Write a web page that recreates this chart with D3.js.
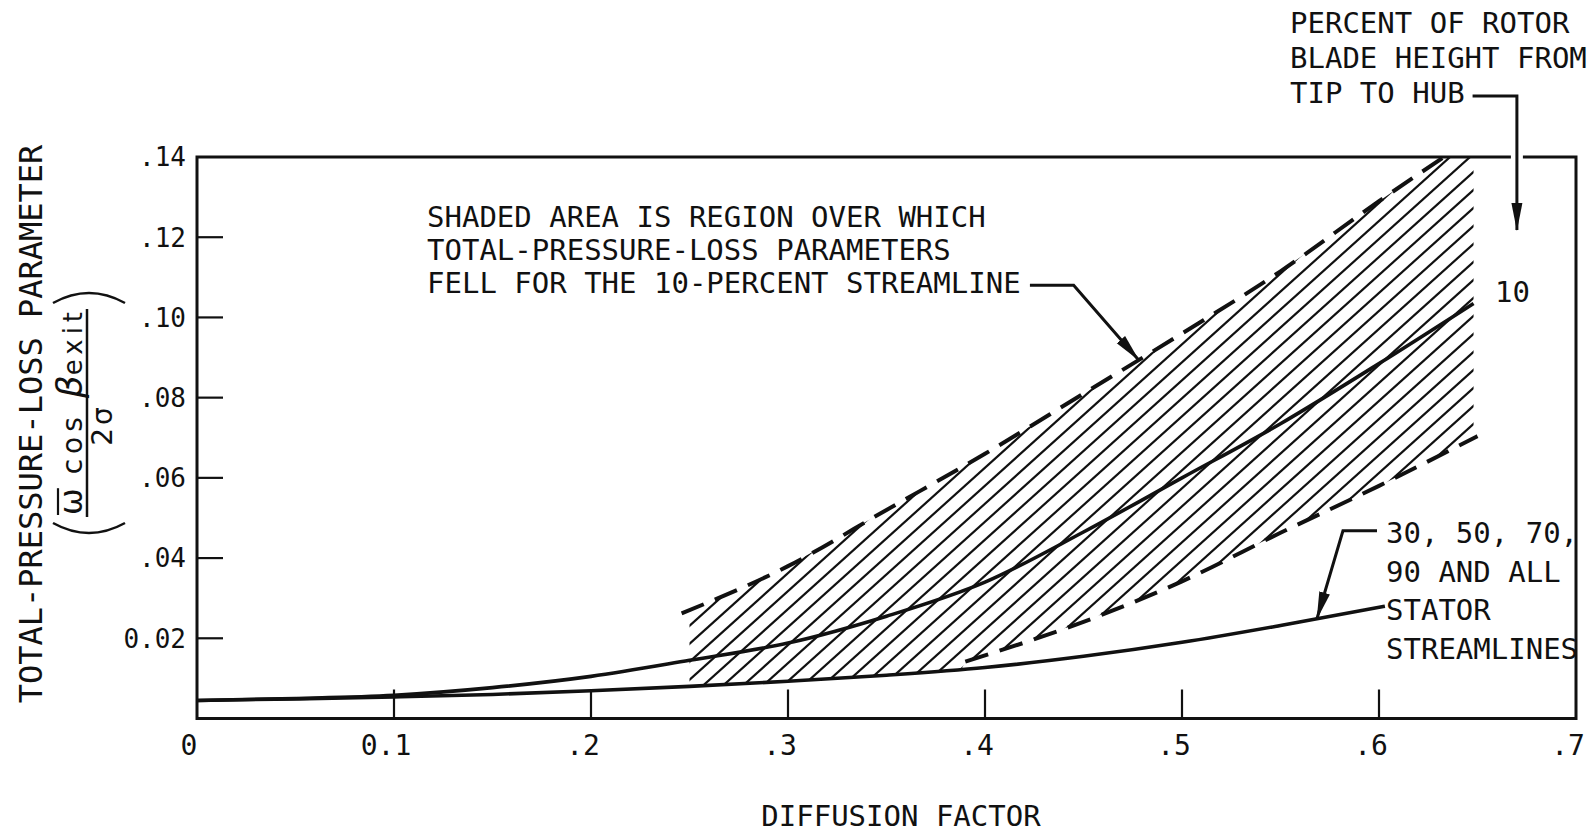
<!DOCTYPE html>
<html>
<head>
<meta charset="utf-8">
<script src="https://cdn.jsdelivr.net/npm/d3@7"></script>
<style>
  body { margin: 0; background: #fff; }
  text { font-family: "DejaVu Sans Mono", monospace; fill: #111; }
</style>
</head>
<body>
<svg id="chart"></svg>
<script>
// Total-pressure-loss parameter against diffusion factor

const xTicks = [0, 0.1, 0.2, 0.3, 0.4, 0.5, 0.6, 0.7];
const xTickLabels = ["0", "0.1", ".2", ".3", ".4", ".5", ".6", ".7"];
const yTicks = [0.02, 0.04, 0.06, 0.08, 0.10, 0.12, 0.14];
const yTickLabels = ["0.02", ".04", ".06", ".08", ".10", ".12", ".14"];

// 30, 50, 70, 90 percent and all stator streamlines
const statorD = [0, 0.05, 0.1, 0.15, 0.2, 0.25, 0.3, 0.35, 0.4, 0.45, 0.5, 0.55, 0.603];
const statorLoss = [0.0045, 0.0049, 0.0054, 0.006, 0.0069, 0.008, 0.0093, 0.0108, 0.0127, 0.0155, 0.019, 0.0232, 0.028];

// 10 percent streamline (rotor, tip region)
const tip10D = [0, 0.05, 0.1, 0.15, 0.2, 0.25, 0.3, 0.35, 0.4, 0.45, 0.5, 0.55, 0.6, 0.648];
const tip10Loss = [0.0045, 0.005, 0.0058, 0.0077, 0.0105, 0.0145, 0.0188, 0.0255, 0.034, 0.0465, 0.06, 0.0735, 0.0885, 0.1035];

// dashed limits of the shaded band
const upperD = [0.246, 0.3, 0.35, 0.4, 0.45, 0.5, 0.55, 0.6, 0.633];
const upperLoss = [0.0262, 0.038, 0.052, 0.066, 0.081, 0.096, 0.1115, 0.129, 0.14];
const lowerD = [0.39, 0.45, 0.5, 0.55, 0.6, 0.65];
const lowerLoss = [0.0142, 0.0241, 0.0342, 0.0463, 0.058, 0.0704];

const WIDTH = 1593;
const HEIGHT = 832;

const svg = d3.select("#chart").attr("width", WIDTH).attr("height", HEIGHT);

const x = d3.scaleLinear().domain([0, 0.7]).range([197, 1576]);
const y = d3.scaleLinear().domain([0, 0.14]).range([718.5, 157]);

// linear lookup along a read-off series
function lookup(ds, vs, d) {
  if (d <= ds[0]) return vs[0];
  for (let i = 1; i < ds.length; i++) {
    if (d <= ds[i]) {
      const t = (d - ds[i - 1]) / (ds[i] - ds[i - 1]);
      return vs[i - 1] + t * (vs[i] - vs[i - 1]);
    }
  }
  return vs[vs.length - 1];
}

const defs = svg.append("defs");
defs.append("marker")
  .attr("id", "arrow")
  .attr("markerUnits", "userSpaceOnUse")
  .attr("viewBox", "0 -6 28 12")
  .attr("markerWidth", 28)
  .attr("markerHeight", 12)
  .attr("refX", 27)
  .attr("refY", 0)
  .attr("orient", "auto")
  .append("path")
  .attr("d", "M0,-5.5L28,0L0,5.5Z")
  .attr("fill", "#111");

// shaded region: between upper dashed limit and the lower limit (stator curve, then lower dashed)
const bandStart = 0.25, bandEnd = 0.648;
const bandDs = d3.range(bandStart, bandEnd, 0.002).concat([bandEnd]);
const topEdge = bandDs.map(d => [d, Math.min(lookup(upperD, upperLoss, d), 0.14)]);
const bottomEdge = bandDs.map(d => {
  const s = lookup(statorD, statorLoss, d);
  return [d, d >= lowerD[0] ? Math.max(s, lookup(lowerD, lowerLoss, d)) : s];
}).reverse();

const pxLine = d3.line().x(d => x(d[0])).y(d => y(d[1]));
defs.append("clipPath").attr("id", "bandClip")
  .append("path")
  .attr("d", pxLine(topEdge.concat(bottomEdge)) + "Z");

const slope = Math.tan(42 * Math.PI / 180);
const hx0 = x(0.22), hx1 = x(0.68);
const hatch = svg.append("g").attr("clip-path", "url(#bandClip)");
hatch.selectAll("line")
  .data(d3.range(y(0.14), y(0) + (hx1 - hx0) * slope, 18))
  .enter()
  .append("line")
  .attr("x1", hx0).attr("y1", b => b)
  .attr("x2", hx1).attr("y2", b => b - (hx1 - hx0) * slope)
  .attr("stroke", "#111")
  .attr("stroke-width", 2.2);

// frame and ticks
svg.append("path")
  .attr("d", `M${x(0)},${y(0.14)}H${x(0.7)}V${y(0)}H${x(0)}Z`)
  .attr("fill", "none")
  .attr("stroke", "#111")
  .attr("stroke-width", 3);

svg.selectAll(".xtick")
  .data(xTicks.slice(1, -1))
  .enter()
  .append("line")
  .attr("class", "xtick")
  .attr("x1", d => x(d)).attr("x2", d => x(d))
  .attr("y1", y(0)).attr("y2", y(0) - 29)
  .attr("stroke", "#111")
  .attr("stroke-width", 2.2);

svg.selectAll(".ytick")
  .data(yTicks.slice(0, -1))
  .enter()
  .append("line")
  .attr("class", "ytick")
  .attr("x1", x(0)).attr("x2", x(0) + 26)
  .attr("y1", d => y(d)).attr("y2", d => y(d))
  .attr("stroke", "#111")
  .attr("stroke-width", 2.2);

svg.selectAll(".xlab")
  .data(xTicks)
  .enter()
  .append("text")
  .attr("class", "xlab")
  .attr("x", d => x(d) - 8)
  .attr("y", 755)
  .attr("text-anchor", "middle")
  .attr("font-size", 28)
  .text((d, i) => xTickLabels[i]);

svg.selectAll(".ylab")
  .data(yTicks)
  .enter()
  .append("text")
  .attr("class", "ylab")
  .attr("x", x(0) - 11)
  .attr("y", d => y(d))
  .attr("dy", "0.36em")
  .attr("text-anchor", "end")
  .attr("font-size", 26)
  .text((d, i) => yTickLabels[i]);

// curves
const curve = d3.line().x(d => x(d[0])).y(d => y(d[1])).curve(d3.curveMonotoneX);
const zip = (ds, vs) => ds.map((d, i) => [d, vs[i]]);

svg.append("path")
  .attr("d", curve(zip(statorD, statorLoss)))
  .attr("fill", "none").attr("stroke", "#111").attr("stroke-width", 3.6);

svg.append("path")
  .attr("d", curve(zip(tip10D, tip10Loss)))
  .attr("fill", "none").attr("stroke", "#111").attr("stroke-width", 3.6);

svg.append("path")
  .attr("d", curve(zip(upperD, upperLoss)))
  .attr("fill", "none").attr("stroke", "#111").attr("stroke-width", 4)
  .attr("stroke-dasharray", "24,12");

svg.append("path")
  .attr("d", curve(zip(lowerD, lowerLoss)))
  .attr("fill", "none").attr("stroke", "#111").attr("stroke-width", 4)
  .attr("stroke-dasharray", "24,12");

// annotations
function textBlock(lines, px, py, step) {
  const t = svg.append("text").attr("font-size", 29);
  lines.forEach((s, i) => {
    t.append("tspan").attr("x", px).attr("y", py + i * step).text(s);
  });
}

textBlock(["SHADED AREA IS REGION OVER WHICH",
           "TOTAL-PRESSURE-LOSS PARAMETERS",
           "FELL FOR THE 10-PERCENT STREAMLINE"], 427, 226.7, 33.3);
textBlock(["PERCENT OF ROTOR", "BLADE HEIGHT FROM", "TIP TO HUB"], 1290, 33.3, 35);
textBlock(["10"], 1495, 302, 0);
textBlock(["30, 50, 70,", "90 AND ALL", "STATOR", "STREAMLINES"], 1386, 543, 38.5);

const leader = d3.line().x(d => x(d[0])).y(d => y(d[1]));

// hub arrow crosses the frame with a small gap
const hubLeader = [[0.6475, 0.1552], [0.670, 0.1552], [0.670, 0.1218]];
svg.append("path")
  .attr("d", leader(hubLeader.slice(1)))
  .attr("fill", "none").attr("stroke", "#fff").attr("stroke-width", 12);
svg.append("path")
  .attr("d", leader(hubLeader))
  .attr("fill", "none").attr("stroke", "#111").attr("stroke-width", 3)
  .attr("marker-end", "url(#arrow)");

svg.append("path")
  .attr("d", leader([[0.4228, 0.108], [0.445, 0.108], [0.478, lookup(upperD, upperLoss, 0.478)]]))
  .attr("fill", "none").attr("stroke", "#111").attr("stroke-width", 3)
  .attr("marker-end", "url(#arrow)");

svg.append("path")
  .attr("d", leader([[0.599, 0.0468], [0.5817, 0.0468], [0.5685, lookup(statorD, statorLoss, 0.5685)]]))
  .attr("fill", "none").attr("stroke", "#111").attr("stroke-width", 3)
  .attr("marker-end", "url(#arrow)");

// axis titles
svg.append("text")
  .attr("x", 901).attr("y", 826)
  .attr("text-anchor", "middle")
  .attr("font-size", 29)
  .text("DIFFUSION FACTOR");

svg.append("text")
  .attr("transform", "translate(42,424) rotate(-90)")
  .attr("text-anchor", "middle")
  .attr("font-size", 32)
  .text("TOTAL-PRESSURE-LOSS PARAMETER");

// the fraction (ω̄ cos β_exit / 2σ) in parentheses
const frac = svg.append("g").attr("transform", "translate(87,413) rotate(-90)");
frac.append("line")
  .attr("x1", -104).attr("x2", 104).attr("y1", 0).attr("y2", 0)
  .attr("stroke", "#111").attr("stroke-width", 2.5);
frac.append("path")
  .attr("d", "M110,-34Q130,2 110,38")
  .attr("fill", "none").attr("stroke", "#111").attr("stroke-width", 2.5);
frac.append("path")
  .attr("d", "M-110,-34Q-130,2 -110,38")
  .attr("fill", "none").attr("stroke", "#111").attr("stroke-width", 2.5);

const num = frac.append("text")
  .attr("x", -102).attr("y", -5)
  .style("font-family", "'DejaVu Sans', sans-serif");
const omega = num.append("tspan").attr("font-size", 32).text("ω");
num.append("tspan").attr("font-size", 28).attr("letter-spacing", 5).text(" cos ");
num.append("tspan").attr("font-size", 36).attr("font-style", "italic").text("β");
num.append("tspan").attr("font-size", 26).attr("letter-spacing", 5).text("exit");

// bar over omega
const omegaW = omega.node().getComputedTextLength();
frac.append("line")
  .attr("x1", -102).attr("x2", -102 + omegaW)
  .attr("y1", -29).attr("y2", -29)
  .attr("stroke", "#111").attr("stroke-width", 2.2);

frac.append("text")
  .attr("x", -12).attr("y", 25)
  .attr("text-anchor", "middle")
  .attr("font-size", 28)
  .attr("letter-spacing", 3)
  .style("font-family", "'DejaVu Sans', sans-serif")
  .text("2σ");
</script>
</body>
</html>
